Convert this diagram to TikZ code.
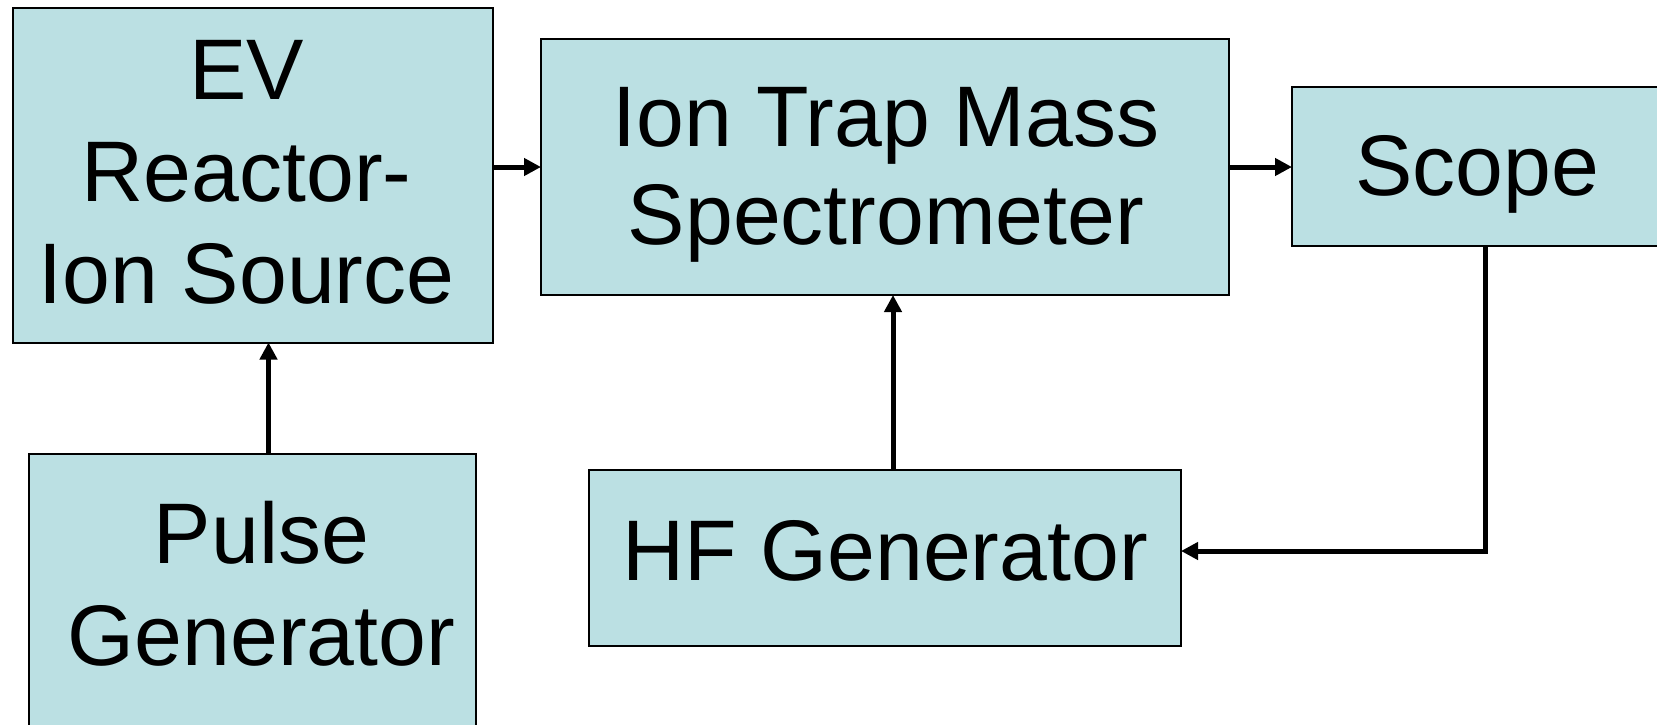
\documentclass[tikz,border=0pt]{standalone}
\usepackage{fontspec}
\setmainfont{Liberation Sans}
\usetikzlibrary{arrows.meta}
\definecolor{boxblue}{RGB}{187,224,227}
\begin{document}
\begin{tikzpicture}[x=1pt, y=-1pt, line join=miter,
    box/.style={draw, line width=2pt, fill=boxblue, inner sep=0pt, outer sep=0pt},
    txt/.style={inner sep=0pt, align=center, font=\fontsize{86}{102}\selectfont},
    link/.style={line width=5pt, -{Triangle[length=17pt, width=17pt]}}]
    \useasboundingbox (0, 0) rectangle (1657, 724);

    \node[box, minimum width=480, minimum height=335] (ev) at (252.5, 175) {};
    \node[box, minimum width=688, minimum height=256] (ion) at (885, 167) {};
    \node[box, minimum width=380, minimum height=159] (scope) at (1482, 166.5) {};
    \node[box, minimum width=592, minimum height=176] (hf) at (885, 558) {};
    \node[box, minimum width=447, minimum height=316] (pulse) at (252.5, 612) {};

    \node[txt] (evtext) at (246.5, 172) {EV\\Reactor-\\Ion Source};
    \node[txt, font=\fontsize{86}{98}\selectfont] (iontext) at (886, 175) {Ion Trap Mass\\Spectrometer};
    \node[txt] (scopetext) at (1477, 174.5) {Scope};
    \node[txt] (hftext) at (885, 551) {HF Generator};
    \node[txt] (pulsetext) at (261.5, 583.5) {Pulse\\Generator};

    \draw[link] (ev.east |- ion.west) -- (ion.west);
    \draw[link] (ion.east) -- (scope.west |- ion.east);
    \draw[link] ([xshift=16pt]pulse.north) -- ([xshift=16pt]ev.south);
    \draw[link] ([xshift=8pt]hf.north) -- ([xshift=8pt]ion.south);
    \draw[link] ([xshift=3pt]scope.south) |- ([yshift=7pt]hf.east);
\end{tikzpicture}
\end{document}
